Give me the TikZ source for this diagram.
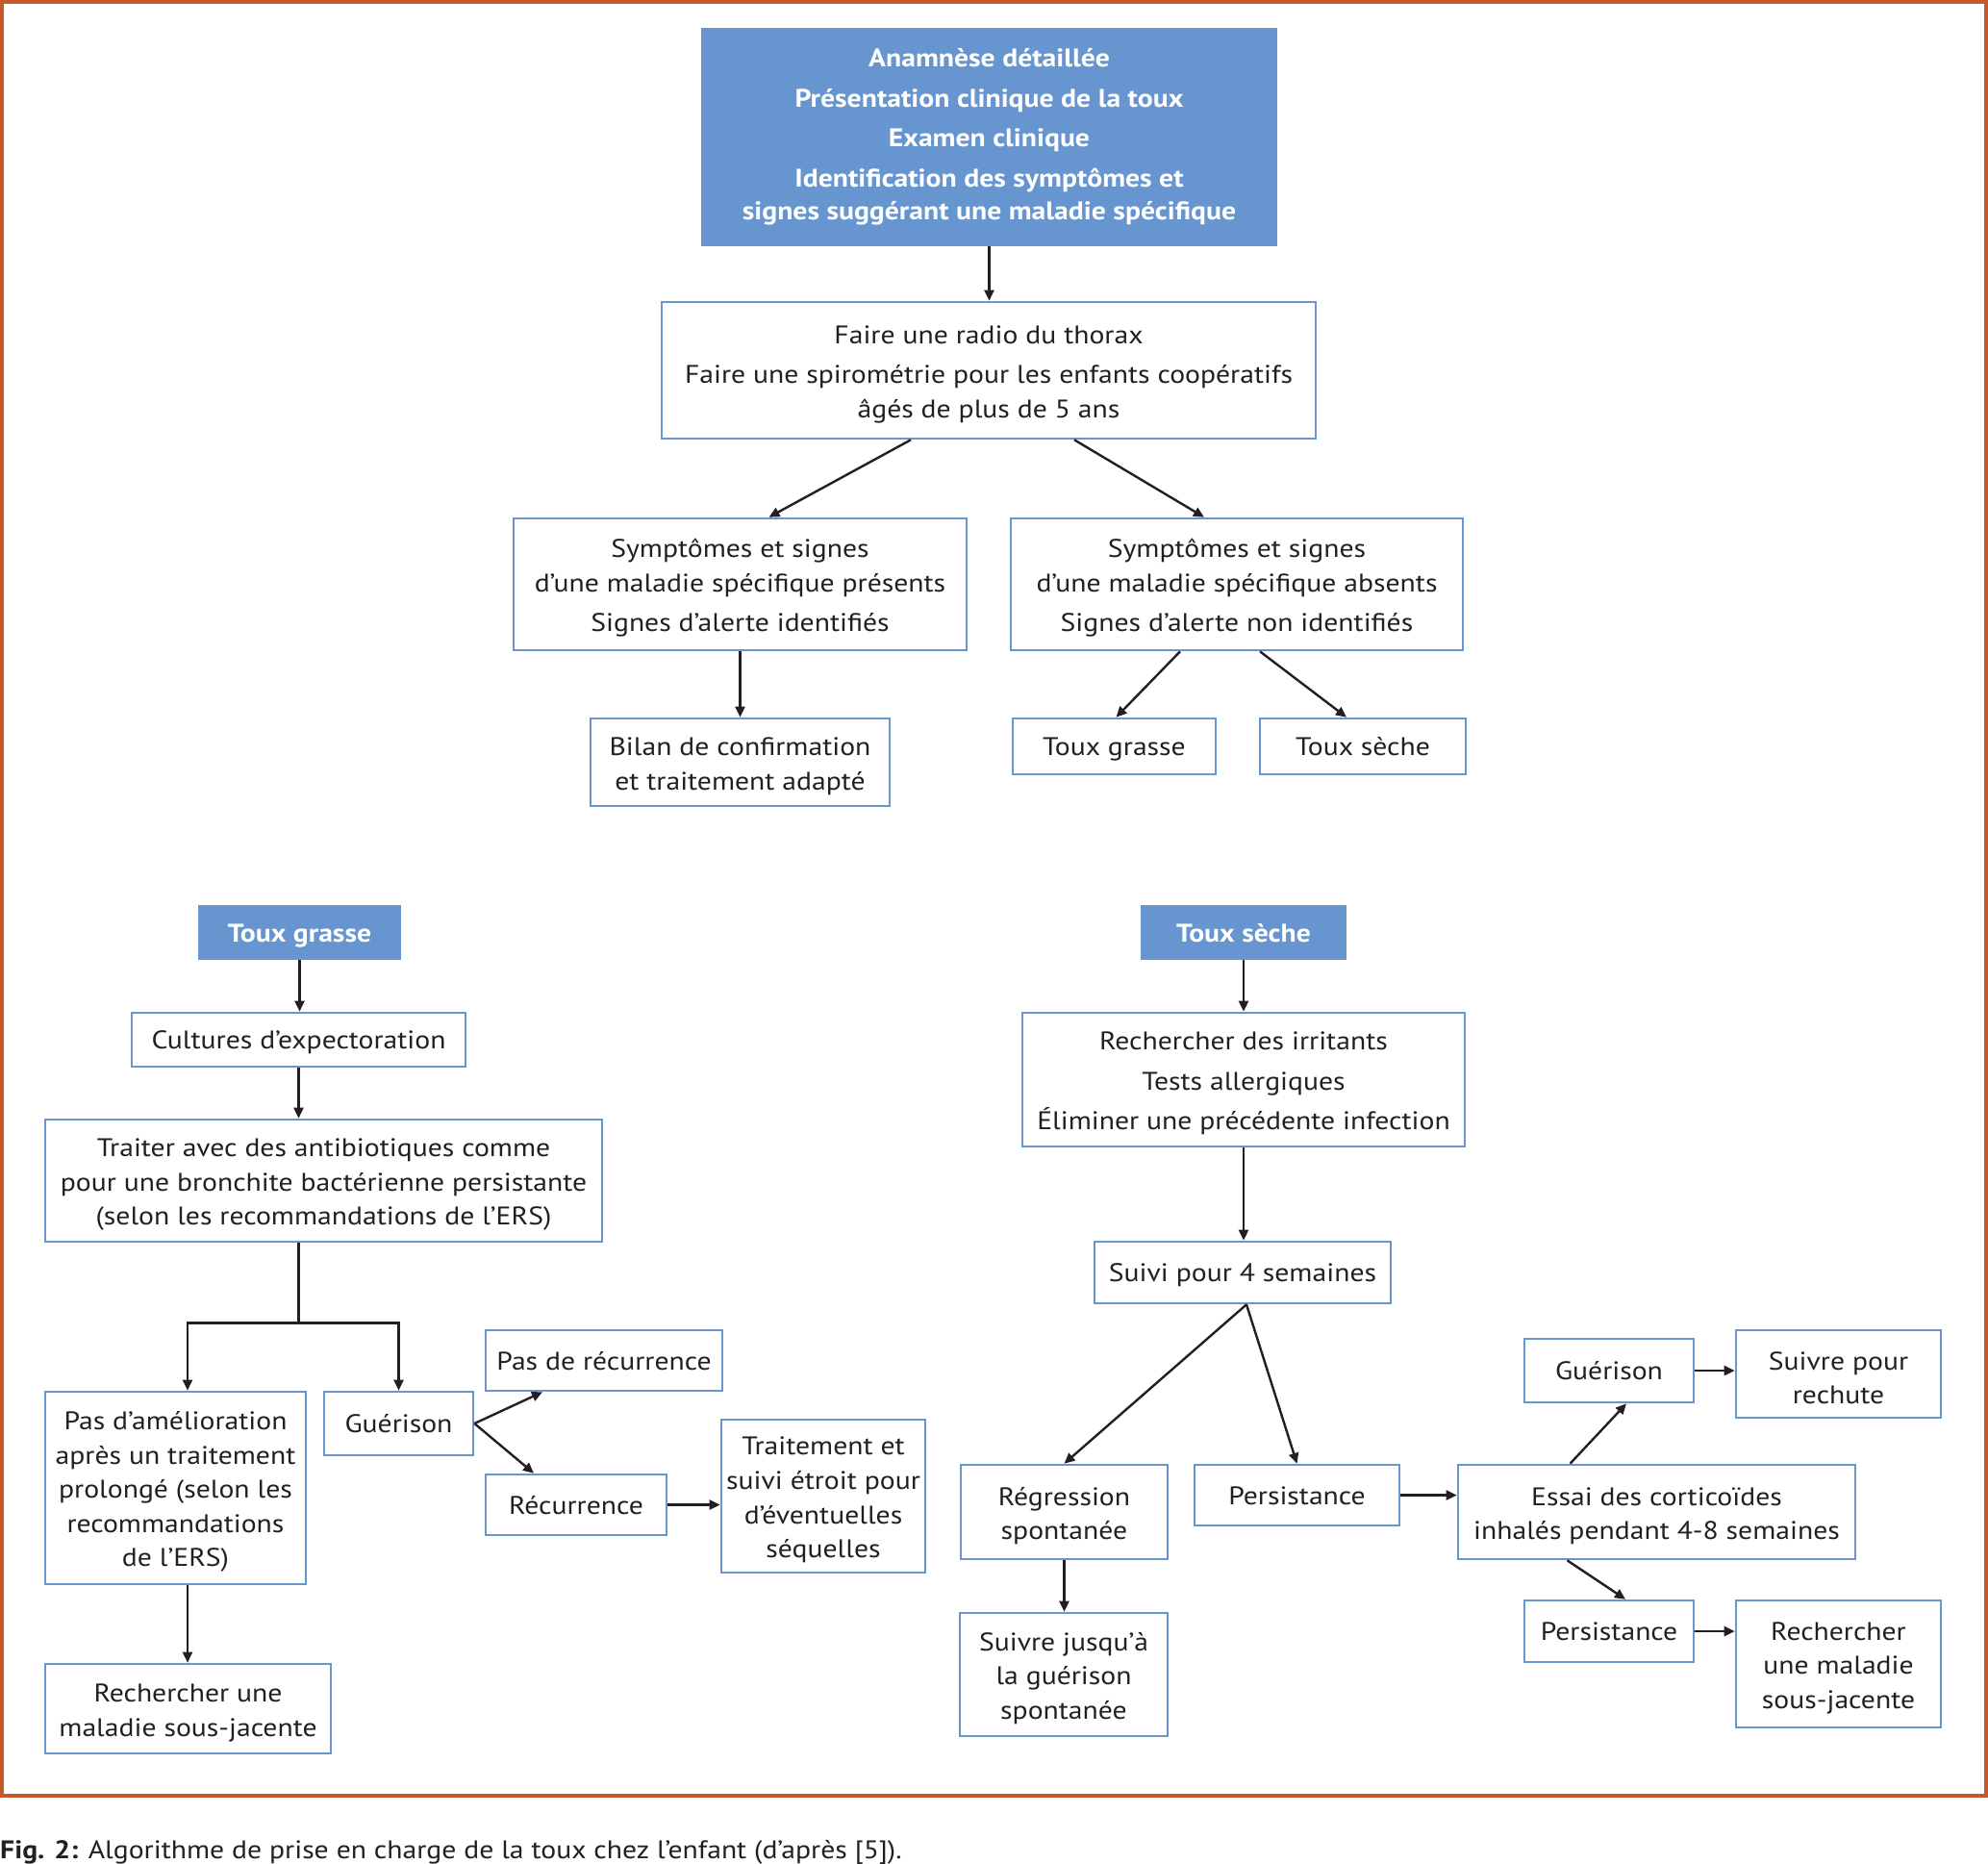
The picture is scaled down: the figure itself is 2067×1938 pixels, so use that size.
\documentclass[tikz,border=0pt]{standalone}
\usepackage{fontspec}
\setmainfont{PT Sans}[FakeStretch=1.12]
\usetikzlibrary{arrows.meta,calc}
\definecolor{boxblue}{HTML}{6A96CE}
\definecolor{fillblue}{HTML}{6695CF}
\definecolor{framec}{HTML}{C45A2C}
\definecolor{txt}{HTML}{231F20}
\newcommand\mystrut{\rule{0pt}{27pt}}
\begin{document}
\begin{tikzpicture}[x=1pt,y=-1pt,
 one/.style={text height=23pt, text depth=4pt},
 box/.style={draw=boxblue, line width=2.6pt, fill=white, align=center, text=txt, inner sep=0pt, font=\fontsize{26.5}{35.6}\selectfont},
 head/.style={fill=fillblue, align=center, text=white, inner sep=0pt, font=\fontsize{26.5}{34.6}\selectfont\bfseries},
 wh/.style 2 args={minimum width=#1 pt, minimum height=#2 pt},
 arr/.style={draw=txt, line width=2.4pt, -{Triangle[length=11pt,width=10pt]}},
 ln/.style={draw=txt, line width=2.4pt}]
\useasboundingbox (0,0) rectangle (2067,1938);
\fill[white] (0,0) rectangle (2067,1938);
\draw[framec, line width=4pt] (2,2) rectangle (2065,1867);

\node[head, wh={599}{227}] (top) at (1028.5,142.5) {Anamnèse détaillée\\[7pt]Présentation clinique de la toux\\[7pt]Examen clinique\\[7pt]Identification des symptômes et\\signes suggérant une maladie spécifique};
\node[box, wh={680}{142}] (radio) at (1028,385) {\mystrut Faire une radio du thorax\\[6pt]Faire une spirométrie pour les enfants coopératifs\\âgés de plus de 5 ans};
\node[box, wh={471}{137}] (sympL) at (769.5,607.5) {\mystrut Symptômes et signes\\d’une maladie spécifique présents\\[6pt]Signes d’alerte identifiés};
\node[box, wh={470}{137}] (sympR) at (1286,607.5) {\mystrut Symptômes et signes\\d’une maladie spécifique absents\\[6pt]Signes d’alerte non identifiés};
\node[box, wh={311}{91}] (bilan) at (769.5,792.5) {\mystrut Bilan de confirmation\\et traitement adapté};
\node[box, one, wh={211}{58}] (tgS) at (1158.5,776) {Toux grasse};
\node[box, one, wh={214}{58}] (tsS) at (1417,776) {Toux sèche};

\node[head, one, wh={211}{57}] (tgH) at (311.5,969.5) {Toux grasse};
\node[box, one, wh={347}{56}] (cult) at (310.5,1081) {Cultures d’expectoration};
\node[box, wh={579}{127}] (traiter) at (336.5,1227.5) {\mystrut Traiter avec des antibiotiques comme\\pour une bronchite bactérienne persistante\\(selon les recommandations de l’ERS)};
\node[box, wh={271}{200}] (pasam) at (182.5,1547) {\mystrut Pas d’amélioration\\après un traitement\\prolongé (selon les\\recommandations\\de l’ERS)};
\node[box, one, wh={155}{66}] (guerL) at (414.5,1480) {Guérison};
\node[box, one, wh={246}{63}] (pasrec) at (628,1414.5) {Pas de récurrence};
\node[box, one, wh={188}{63}] (recur) at (599,1564.5) {Récurrence};
\node[box, wh={212}{159}] (trait) at (856,1555.5) {\mystrut Traitement et\\suivi étroit pour\\d’éventuelles\\séquelles};
\node[box, wh={297}{93}] (rechL) at (195.5,1776.5) {\mystrut Rechercher une\\maladie sous-jacente};

\node[head, one, wh={214}{57}] (tsH) at (1293,969.5) {Toux sèche};
\node[box, wh={460}{139}] (irrit) at (1293,1122.5) {\mystrut Rechercher des irritants\\[6pt]Tests allergiques\\[6pt]Éliminer une précédente infection};
\node[box, one, wh={308}{64}] (suivi) at (1292,1323) {Suivi pour 4 semaines};
\node[box, wh={215}{98}] (regr) at (1106.5,1572) {\mystrut Régression\\spontanée};
\node[box, one, wh={213}{63}] (persM) at (1348.5,1554.5) {Persistance};
\node[box, wh={413}{98}] (essai) at (1722.5,1572) {\mystrut Essai des corticoïdes\\inhalés pendant 4-8 semaines};
\node[box, one, wh={176}{66}] (guerR) at (1673,1425) {Guérison};
\node[box, wh={213}{91}] (rechute) at (1911.5,1428.5) {\mystrut Suivre pour\\rechute};
\node[box, one, wh={176}{64}] (persR) at (1673,1696) {Persistance};
\node[box, wh={213}{132}] (rechR) at (1911.5,1730) {\mystrut Rechercher\\une maladie\\sous-jacente};
\node[box, wh={216}{128}] (suivj) at (1106,1741) {\mystrut Suivre jusqu’à\\la guérison\\spontanée};

\node[anchor=west, inner sep=0pt, text=txt, font=\fontsize{26.5}{30}\selectfont] (cap) at (0,1926) {\textbf{Fig. 2:} Algorithme de prise en charge de la toux chez l’enfant (d’après [5]).};

\draw[arr] (top.south) -- (top.south |- radio.north);
\draw[arr] ([xshift=-81pt]radio.south) -- ([xshift=30pt]sympL.north);
\draw[arr] ([xshift=89pt]radio.south) -- ([xshift=-34pt]sympR.north);
\draw[arr] (sympL) -- (bilan);
\draw[arr] ([xshift=-59pt]sympR.south) -- ([xshift=2pt]tgS.north);
\draw[arr] ([xshift=24pt]sympR.south) -- ([xshift=-17pt]tsS.north);
\draw[arr] (tgH.south) -- (tgH.south |- cult.north);
\draw[arr] (cult.south) -- (cult.south |- traiter.north);
\draw[ln] (cult.south |- traiter.south) -- ++(0,83) coordinate (bj);
\draw[arr] (bj) -| ([xshift=12.5pt]pasam.north);
\draw[arr] (bj) -| (guerL.north);
\draw[arr] ([xshift=12.5pt]pasam.south) -- ([xshift=12.5pt]pasam.south |- rechL.north);
\draw[arr] (guerL.east) -- ([xshift=-64pt]pasrec.south);
\draw[arr] (guerL.east) -- ([xshift=-44pt]recur.north);
\draw[arr] (recur.east) -- (recur.east -| trait.west);
\draw[arr] (tsH) -- (irrit);
\draw[arr] (irrit.south) -- (irrit.south |- suivi.north);
\draw[arr] ([xshift=4pt]suivi.south) -- (regr.north);
\draw[arr] ([xshift=4pt]suivi.south) -- (persM.north);
\draw[arr] (persM.east) -- (persM.east -| essai.west);
\draw[arr] ([xshift=-90pt]essai.north) -- ([xshift=18pt]guerR.south);
\draw[arr] ([xshift=-93pt]essai.south) -- ([xshift=17pt]persR.north);
\draw[arr] (guerR.east) -- (guerR.east -| rechute.west);
\draw[arr] (persR.east) -- (persR.east -| rechR.west);
\draw[arr] (regr.south) -- (regr.south |- suivj.north);
\end{tikzpicture}
\end{document}
